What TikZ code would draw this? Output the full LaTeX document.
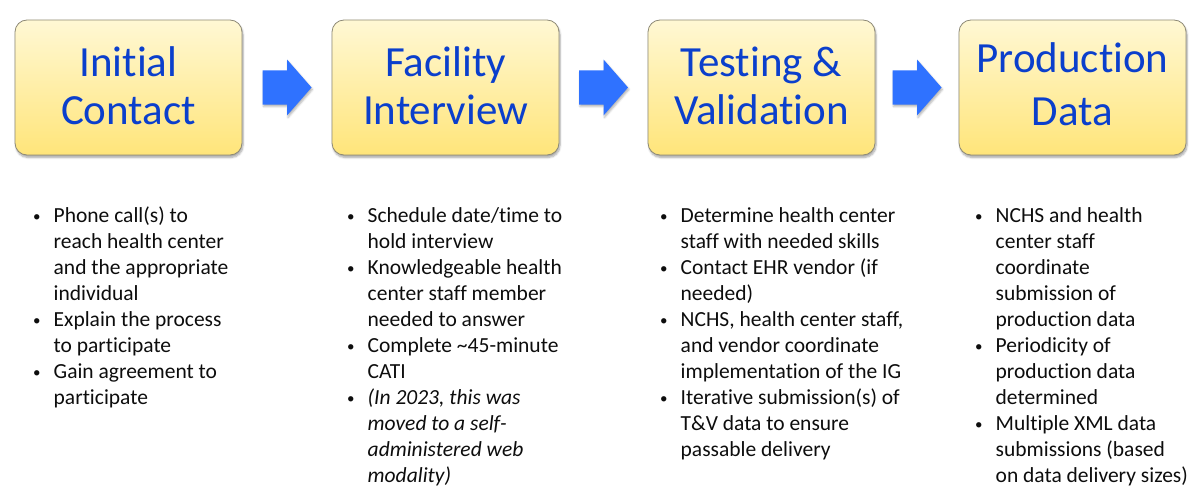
\documentclass[tikz,border=0pt]{standalone}
\usepackage{fontspec}
\setmainfont{Carlito}[Ligatures=NoCommon]
\usepackage{tikz}
\usetikzlibrary{positioning,calc,shadows.blur}

\definecolor{stageblue}{HTML}{0B3FCC}
\definecolor{boxtop}{HTML}{FFF8D4}
\definecolor{boxbottom}{HTML}{FFE57A}
\definecolor{boxedge}{HTML}{8E8A76}
\definecolor{arrowblue}{HTML}{2F72FF}
\definecolor{textgray}{HTML}{0D0D0D}

\newcommand{\bl}{\strut\makebox[21.5pt][l]{\hspace{1pt}\raisebox{1.2pt}{\fontsize{15}{26}\selectfont\textbullet}}}
\newcommand{\nb}{\strut\hspace*{21.5pt}}

\begin{document}
\begin{tikzpicture}[x=1pt,y=-1pt,
  stage/.style={draw=boxedge,line width=0.8pt,rounded corners=12pt,
    top color=boxtop,bottom color=boxbottom,
    minimum width=227pt,minimum height=135pt,inner sep=0pt,text depth=4pt,
    text=stageblue,align=center,font=\fontsize{43}{48}\selectfont,
    blur shadow={shadow xshift=1pt,shadow yshift=-2.5pt,shadow blur steps=6,shadow opacity=35}},
  points/.style={anchor=north west,inner sep=0pt,align=left,text=textgray,
    font=\fontsize{21.5}{26}\selectfont},
  flowarrow/.style={fill=arrowblue,
    blur shadow={shadow xshift=1pt,shadow yshift=-2pt,shadow blur steps=4,shadow opacity=30}}]
\useasboundingbox (0,0) rectangle (1200,503);

\node[stage] (s1) at (128.5,87.5) {Initial\\Contact};
\node[stage] (s2) at (445.5,87.5) {Facility\\Interview};
\node[stage] (s3) at (761.5,87.5) {Testing \&\\Validation};
\node[stage,font=\fontsize{43}{53}\selectfont,text depth=7.5pt] (s4) at (1072.5,87.5) {Production\\Data};

% block arrows between the stages
\foreach \a/\b in {s1/s2,s2/s3,s3/s4}
  \fill[flowarrow] ($(\a.east)!0.5!(\b.west)$) +(-24.5,-17) -- +(0,-17) -- +(0,-28)
    -- +(24.5,0) -- +(0,28) -- +(0,17) -- +(-24.5,17) -- cycle;

\node[points] (p1) at (32,203.8) {\bl Phone call(s) to\\ \nb reach health center\\
  \nb and the appropriate\\ \nb individual\\ \bl Explain the process\\
  \nb to participate\\ \bl Gain agreement to\\ \nb participate};
\node[points] (p2) at (346,203.8) {\bl Schedule date/time to\\ \nb hold interview\\
  \bl Knowledgeable health\\ \nb center staff member\\ \nb needed to answer\\
  \bl Complete \textasciitilde45-minute\\ \nb CATI\\
  \bl \textit{(In 2023, this was}\\ \nb \textit{moved to a self-}\\
  \nb \textit{administered web}\\ \nb \textit{modality)}};
\node[points] (p3) at (659,203.8) {\bl Determine health center\\ \nb staff with needed skills\\
  \bl Contact EHR vendor (if\\ \nb needed)\\ \bl NCHS, health center staff,\\
  \nb and vendor coordinate\\ \nb implementation of the IG\\
  \bl Iterative submission(s) of\\ \nb T\&V data to ensure\\ \nb passable delivery};
\node[points] (p4) at (974,203.8) {\bl NCHS and health\\ \nb center staff\\
  \nb coordinate\\ \nb submission of\\ \nb production data\\
  \bl Periodicity of\\ \nb production data\\ \nb determined\\
  \bl Multiple XML data\\ \nb submissions (based\\ \nb on data delivery sizes)};
\end{tikzpicture}
\end{document}
